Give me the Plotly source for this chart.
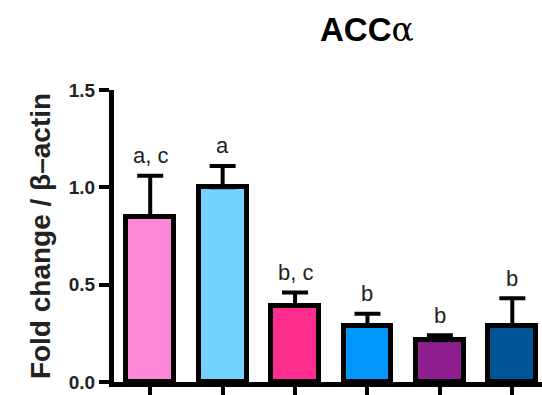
import plotly.graph_objects as go

groups = ["G1", "G2", "G3", "G4", "G5", "G6"]
means = [0.85, 1.0, 0.39, 0.29, 0.215, 0.29]
sem = [0.21, 0.11, 0.07, 0.06, 0.025, 0.14]
letters = ["a, c", "a", "b, c", "b", "b", "b"]
colors = ["#FF88D6", "#73D2FF", "#FF2D8E", "#0098FF", "#8F1F8F", "#005596"]

fig = go.Figure()
fig.add_trace(go.Bar(
    x=list(range(len(groups))),
    y=means,
    width=0.66,
    marker=dict(color=colors, line=dict(color="black", width=5)),
    error_y=dict(type="data", array=sem, arrayminus=[0] * len(sem),
                 symmetric=False, color="black", thickness=4, width=13),
))

for i, (m, s, t) in enumerate(zip(means, sem, letters)):
    fig.add_annotation(x=i, y=m + s, text=t, showarrow=False,
                       yshift=20, font=dict(family="Arial, Liberation Sans", size=22, color="#222"))

fig.add_annotation(x=0.59, xref="paper", y=1.0, yref="paper", yshift=82,
                   text="<b>ACC</b><span style='font-family:DejaVu Serif'>α</span>",
                   showarrow=False,
                   font=dict(family="Arial, Liberation Sans", size=33, color="black"))

fig.update_layout(
    width=542, height=395,
    margin=dict(l=114, r=0, t=90, b=13),
    plot_bgcolor="white", paper_bgcolor="white",
    showlegend=False,
    bargap=0,
    xaxis=dict(range=[-0.5, 5.41], tickvals=list(range(6)), showticklabels=False,
               ticks="outside", ticklen=9, tickwidth=4, tickcolor="black",
               showline=True, linewidth=5, linecolor="black", showgrid=False,
               zeroline=False, fixedrange=True),
    yaxis=dict(range=[0, 1.5], tickvals=[0, 0.5, 1.0, 1.5],
               ticktext=["0.0", "0.5", "1.0", "1.5"],
               ticks="outside", ticklen=10, tickwidth=4, tickcolor="black",
               showline=True, linewidth=5, linecolor="black", showgrid=False,
               zeroline=False,
               tickfont=dict(family="Arial, Liberation Sans", size=19, color="#222", weight="bold"),
               title=dict(text="<b>Fold change / β–actin</b>", standoff=11,
                          font=dict(family="Arial, Liberation Sans", size=28, color="#222"))),
)

fig.write_html("out.html")
